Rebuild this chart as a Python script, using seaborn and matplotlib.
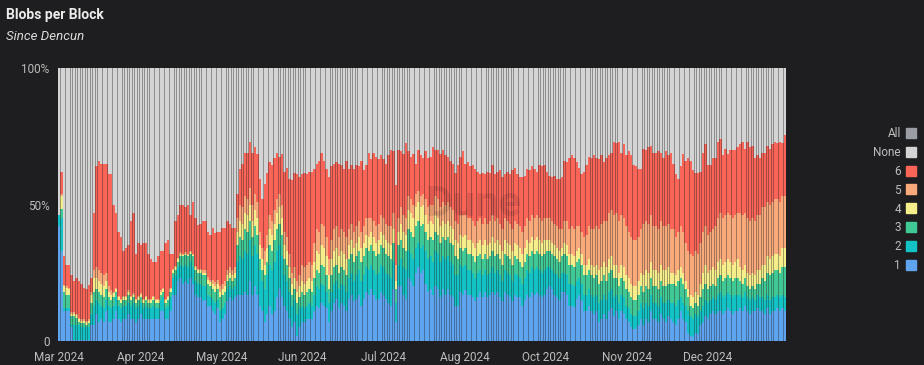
"""Blobs per Block since Dencun: daily share of blocks by blob count (stacked to 100%)."""

import matplotlib

matplotlib.use("Agg")
import matplotlib.pyplot as plt
import numpy as np
import pandas as pd
import seaborn as sns
from matplotlib.lines import Line2D

# cumulative % of blocks carrying 1..k blobs, one value per day from 13 Mar 2024
cum_1 = [
    42, 33, 11, 11, 11, 5, 0.5, 0.5, 0.5, 0.5,
    0.5, 0.5, 0.5, 6, 6, 10, 7, 8, 7, 11,
    7, 7, 8, 11, 8, 7, 8, 8, 10, 8,
    8, 7, 8, 10, 8, 8, 8, 8, 8, 8,
    8, 11, 11, 8, 8, 11, 17, 17, 22, 23,
    21, 22, 21, 23, 21, 17, 16, 16, 14.5, 15,
    13, 13, 11, 10, 12, 7, 8, 10, 14.5, 16,
    15, 16, 17, 17, 17, 18, 17, 22, 17, 20,
    17, 13, 11, 7, 10, 13, 10, 11, 16, 19,
    16, 13, 11, 8, 5, 7, 2, 5,
    7, 7, 8, 8, 8, 11, 13, 12, 14, 13,
    12, 7, 11, 14, 15.5, 12, 14, 13, 11,
    15.5, 17, 14.5, 15.5, 17, 13, 15.5, 18, 17,
    19, 17, 15, 15.5, 18, 17, 15.5, 14, 13,
    19, 7, 20, 20, 17, 15.5, 23, 22, 20, 25, 27, 25, 26,
    21, 18, 19, 17, 20, 19, 16, 19, 17, 19,
    17, 16, 13, 13, 18, 17, 18.5, 17, 17,
    16, 14.5, 16, 18, 16, 18, 16, 17, 18,
    17, 18, 16, 14.5, 18, 17, 16, 14.5, 17,
    16, 16, 13, 15, 17, 16, 18, 17, 18, 17, 16, 17, 19,
    20, 19, 17, 16, 15, 18, 18, 17, 13, 13,
    12.5, 15.5, 17, 15, 11, 11, 13, 11, 10,
    11, 7, 8, 10, 8, 11, 12, 9,
    11, 8, 11, 10, 8, 7, 5, 4.5, 4.5,
    6, 8, 6, 8, 7, 11, 8, 8, 7,
    10, 8, 7, 9, 8,
    7, 6, 8, 11, 8, 7, 3, 2, 1.5, 3,
    2.5, 6, 7, 9, 8, 10, 11, 10, 11,
    11, 10, 11, 12, 11, 10, 11, 11,
    12, 11, 13, 11, 10, 11, 11, 12, 11,
    11, 10, 12, 10, 11, 11, 12, 11, 12, 11,
]
cum_2 = [
    46, 45, 12, 12, 12, 6, 6, 6, 6, 5,
    5, 5, 5, 10, 13, 15, 14, 13, 12, 15,
    13, 12, 13, 16, 13, 12, 13, 13, 14, 13,
    14, 12, 13, 14, 12, 13, 12, 12, 13, 12,
    12, 15, 16, 12, 13, 16, 23, 24, 27, 28,
    27, 28, 27, 29, 27, 22, 21, 21, 20, 20,
    17, 16, 15, 14, 15, 11, 12, 14, 19, 20,
    19, 20, 29, 31, 30, 33, 32, 37, 31, 35,
    32, 26, 22, 19, 24, 28, 26, 29, 33, 35,
    31, 24, 22, 18, 13, 15, 10, 12,
    13, 12, 13, 14, 13, 17, 20, 19, 21, 20,
    18, 14, 18, 21, 22, 19, 21, 20, 18,
    23, 25, 22, 24, 26, 22, 24, 27, 26,
    28, 26, 24, 25, 28, 27, 25, 24, 23,
    29, 14, 28, 30, 27, 26, 33, 32, 30, 34, 36, 34, 35,
    33, 30, 31, 29, 33, 32, 29, 31, 30, 31,
    29, 28, 24, 24, 28, 27, 28, 26, 26,
    25, 23, 25, 26, 24, 26, 24, 25, 27,
    25, 26, 24, 22, 26, 25, 24, 22, 25,
    24, 23, 21, 23, 26, 25, 27, 26, 27, 26, 25, 26, 27,
    27, 26, 25, 24, 23, 25, 25, 24, 21, 21,
    20, 22, 23, 21, 17, 17, 19, 17, 16,
    17, 14, 15, 17, 15, 18, 19, 16,
    17, 14, 17, 16, 13, 12, 10, 9, 9,
    11, 14, 12, 14, 13, 17, 14, 14, 13,
    16, 14, 14, 15, 14,
    14, 13, 15, 16, 14, 13, 11, 9, 8, 10,
    9, 11, 13, 15, 14, 15, 16, 15, 17,
    18, 16, 17, 18, 17, 16, 17, 17,
    17, 16, 18, 16, 15, 16, 15, 17, 16,
    16, 15, 17, 15, 16, 16, 17, 16, 17, 16,
]
cum_3 = [
    46, 48.5, 18, 17, 17, 9, 9, 8.5, 7, 6.5,
    6.5, 6, 6.5, 14, 18, 19, 18, 17, 16, 19,
    16, 15, 16, 18, 15, 14, 15, 15, 17, 15,
    16, 14, 15, 16, 14, 15, 14, 14, 15, 14,
    14, 17, 18, 14, 15, 18, 25, 26, 29, 31,
    31, 31.5, 31, 32, 31, 26, 25, 25, 24, 24,
    21, 20, 19, 18, 19, 16, 17, 18, 22, 23,
    22, 23, 35, 38, 37, 41, 40, 44, 38, 42,
    39, 30, 26, 24, 29, 35, 33, 37, 41, 43,
    39, 30, 28, 23, 17, 19, 14, 16,
    18, 17, 18, 19, 18, 23, 26, 25, 28, 27,
    24, 19, 24, 27, 28, 25, 27, 26, 24,
    30, 32, 29, 31, 33, 29, 31, 34, 33,
    35, 33, 31, 32, 35, 34, 32, 31, 30,
    36, 19, 35, 37, 34, 33, 41, 40, 38, 42, 44, 42, 43,
    40, 37, 38, 37, 40, 39, 36, 38, 37, 38,
    36, 35, 31, 30, 34, 33, 34, 32, 32,
    31, 29, 31, 32, 30, 32, 30, 31, 33,
    31, 32, 30, 28, 32, 31, 30, 28, 31,
    30, 29, 27, 29, 32, 31, 33, 32, 33, 32, 31, 32, 33,
    33, 32, 31, 30, 29, 31, 32, 31, 28, 28,
    27, 29, 30, 28, 24, 24, 26, 24, 23,
    24, 21, 22, 24, 22, 25, 26, 23,
    23, 20, 23, 22, 19, 18, 16, 15, 15,
    17, 20, 18, 20, 19, 23, 20, 20, 19,
    22, 20, 20, 21, 21,
    21, 20, 22, 23, 21, 19, 16, 13, 12, 14,
    13, 16, 19, 21, 19, 20, 21, 20, 23,
    24, 22, 23, 24, 23, 22, 23, 23,
    22, 21, 23, 20, 19, 20, 19, 21, 21,
    23, 22, 25, 24, 25, 26, 26, 25, 27, 27,
]
cum_4 = [
    46, 53, 20, 19.5, 19, 10, 10, 9.5, 8, 7.5,
    7.5, 7, 7.5, 17, 23, 23, 22, 21, 20, 22,
    18, 17, 17.5, 19, 16, 15, 16, 16, 18, 16,
    17, 15, 16, 17, 15, 16, 15, 15, 16, 15,
    15, 18, 19, 15, 16, 19, 26, 27, 30, 32,
    31.5, 32, 31.5, 32.5, 31.5, 27, 26, 26, 25, 25,
    22.5, 21.5, 21, 20, 21, 18, 19, 20, 24, 25,
    24, 25, 40, 44, 43, 47, 46, 50, 44, 48,
    45, 35, 30, 28, 34, 41, 39, 43, 47, 49,
    45, 35, 33, 27, 21, 23, 18, 20,
    22, 21, 22, 23, 22, 29, 33, 32, 35, 34,
    31, 24, 30, 33, 34, 31, 33, 32, 30,
    35, 37, 34, 36, 38, 34, 36, 39, 38,
    40, 38, 36, 37, 40, 39, 37, 36, 35,
    41, 22, 40, 43, 40, 39, 48, 47, 45, 49, 51, 49, 50,
    46, 43, 44, 43, 46, 45, 42, 44, 43, 44,
    42, 41, 37, 36, 39, 38, 39, 37, 37,
    36, 34, 36, 37, 35, 37, 35, 36, 38,
    36, 37, 35, 33, 37, 36, 35, 33, 36,
    35, 34, 32, 34, 37, 36, 38, 37, 38, 37, 36, 37, 37,
    37, 36, 35, 34, 33, 34, 36, 35, 32, 32,
    31, 33, 34, 32, 28, 28, 30, 28, 27,
    28, 26, 27, 29, 27, 30, 31, 28,
    28, 25, 28, 27, 24, 23, 21, 20, 20,
    22, 25, 24, 26, 25, 29, 26, 26, 25,
    28, 26, 26, 27, 25,
    25, 24, 26, 27, 25, 22, 19, 17, 16, 18,
    17, 21, 25, 28, 25, 26, 27, 26, 29,
    30, 28, 29, 30, 29, 28, 29, 30,
    27, 26, 28, 25, 24, 25, 24, 26, 26,
    28, 28, 31, 30, 31, 32, 32, 31, 34, 34,
]
cum_5 = [
    46, 54, 20.5, 20, 19.5, 10.5, 10.5, 10, 8.5, 8,
    8, 7.5, 8, 18, 26, 27, 26, 25, 24, 25,
    20, 18.5, 18, 19.5, 16.5, 15.5, 16.5, 16.5, 18.5, 16.5,
    17.5, 15.5, 16.5, 17.5, 15.5, 16.5, 15.5, 15.5, 16.5, 15.5,
    15.5, 18.5, 19.5, 15.5, 16.5, 19.5, 26.5, 27.5, 30.5, 32.5,
    32, 32.5, 32, 33, 32, 27.5, 26.5, 26.5, 26, 26,
    23.5, 22.5, 22.5, 21.5, 22.5, 20, 21, 22, 26, 27,
    26, 27, 45, 50, 49, 53, 52, 56, 50, 54,
    51, 40, 34, 33, 39, 46, 44, 48, 52, 54,
    50, 40, 38, 32, 25, 27, 22, 24,
    28, 27, 28, 29, 28, 36, 41, 40, 43, 42,
    38, 30, 37, 41, 42, 38, 41, 40, 38,
    41, 43, 40, 42, 44, 40, 42, 45, 45,
    45, 44, 42, 43, 46, 45, 43, 42, 42,
    47, 28, 45, 49, 46, 45, 53, 52, 50, 54, 55, 53, 54,
    52, 49, 50, 50, 53, 52, 49, 51, 50, 51,
    49, 48, 44, 43, 46, 46, 46, 45, 45,
    44, 42, 44, 45, 43, 45, 43, 44, 46,
    44, 45, 43, 41, 45, 44, 43, 41, 44,
    43, 42, 40, 42, 45, 44, 46, 45, 46, 45, 44, 45, 45,
    45, 44, 43, 42, 41, 41, 44, 44, 41, 42,
    41, 42, 42, 40, 38, 39, 42, 41, 41,
    42, 41, 43, 44, 44, 47, 48, 46,
    47, 44, 46, 45, 42, 40, 38, 37, 37,
    38, 41, 43, 44, 43, 46, 42, 42, 41,
    44, 42, 42, 43, 41,
    41, 38, 40, 42, 40, 36, 33, 32, 31, 33,
    32, 36, 40, 42, 39, 40, 41, 42, 45,
    47, 45, 46, 47, 46, 45, 46, 47,
    47, 46, 47, 45, 44, 45, 44, 46, 46,
    49, 49, 51, 50, 51, 52, 52, 51, 53, 53,
]
cum_6 = [
    46, 62, 31, 28, 28, 24, 22, 23, 22, 21,
    19.5, 19, 20.5, 23, 47, 64, 66, 65, 65, 65,
    61, 61, 50, 47, 40, 38, 33, 34, 35, 44,
    47, 32, 36, 35, 36, 36, 32, 30, 29, 29,
    31, 33, 33, 36, 37, 32, 32, 44, 46, 50,
    50, 49, 50, 46, 51, 45, 42.5, 43, 44, 44,
    40, 39, 41.5, 39.5, 40, 40, 41.5, 41.5, 44, 43,
    41.5, 41.5, 54, 63, 65, 69, 69, 73, 69, 71,
    68.5, 59.5, 52, 57.5, 61.5, 65.5, 64.5, 67, 69, 67.5,
    68.5, 62, 63.5, 59.5, 59, 61.5, 61, 60,
    61, 61.5, 61, 62, 62, 63, 65, 66, 69, 66,
    63, 60, 64, 65, 65.5, 65, 64.5, 63, 66,
    63, 64.5, 63, 64.5, 64, 66, 62.5, 64.5, 69,
    66.5, 69, 67.5, 66.5, 68, 66.5, 65, 68, 70,
    69.5, 57, 70, 69.5, 68.5, 72.5, 69.5, 67.5, 68.5, 65, 70, 68, 67,
    69.5, 67, 67.5, 71, 70, 70, 68.5, 70, 68, 67.5,
    66, 65, 61.5, 64.5, 67.5, 69.5, 65, 65.5, 64,
    64.5, 63, 62, 61, 61.5, 61, 62, 61.5, 64.5,
    61, 62, 62.5, 60, 61, 62, 61, 62.5, 63.5,
    61, 60, 60, 60.5, 63, 62.5, 64, 63, 62, 64.5, 64, 64.5, 62,
    60.5, 60, 60.5, 59.5, 59.5, 60, 66, 65.5, 67, 68,
    67, 65.5, 63.5, 61, 62, 64.5, 67.5, 67, 68,
    67, 66.5, 68, 65.5, 67, 68, 69, 73,
    72.5, 73, 69, 72, 68, 69.5, 68, 64.5, 64,
    63, 63, 70.5, 70, 71, 71.5, 69, 69, 69.5,
    69, 67, 69.5, 68, 69,
    65, 61, 59.5, 64, 68.5, 66, 67, 66, 62.5, 61.5,
    61.5, 62, 69, 72, 64.5, 64.5, 67, 67, 73,
    74, 68, 70.5, 68.5, 70, 70, 70, 71,
    72, 73, 70.5, 73, 71, 71.5, 67, 68, 67,
    69, 69, 71.5, 70.5, 72, 73, 72.5, 73, 72.5, 75.5,
]

month_labels = ["Mar 2024", "Apr 2024", "May 2024", "Jun 2024", "Jul 2024",
                "Aug 2024", "Oct 2024", "Nov 2024", "Dec 2024"]
legend_labels = ["All", "None", "6", "5", "4", "3", "2", "1"]
stack_order = ["None", "6", "5", "4", "3", "2", "1"]  # first level ends up on top
palette = {
    "All": "#9a9ea4",
    "None": "#d4d4d4",
    "6": "#fb6558",
    "5": "#f9aa7b",
    "4": "#f6ee8a",
    "3": "#41c995",
    "2": "#12c2c4",
    "1": "#5ea4ee",
}

BG = "#1e1e20"
TXT = "#bdbdbd"
TICK_STEP = 32.75  # spacing of the month labels, in days

# cumulative levels -> per-category shares
levels = np.maximum.accumulate(
    np.array([cum_1, cum_2, cum_3, cum_4, cum_5, cum_6], dtype=float), axis=0)
shares = np.diff(levels, axis=0, prepend=0)
n_days = levels.shape[1]
days = np.arange(n_days)

frames = [pd.DataFrame({"day": days, "blobs": str(k + 1), "share": shares[k]})
          for k in range(6)]
frames.append(pd.DataFrame({"day": days, "blobs": "None", "share": 100 - levels[-1]}))
df = pd.concat(frames, ignore_index=True)

sns.set_theme(style="dark", rc={
    "figure.facecolor": BG,
    "axes.facecolor": BG,
    "savefig.facecolor": BG,
})
plt.rcParams["font.family"] = ["Roboto", "DejaVu Sans"]

fig = plt.figure(figsize=(9.24, 3.65), dpi=100)
ax = fig.add_axes([58 / 924, 1 - 341 / 365, 728 / 924, 273 / 365])

# full-width dimmed layer gives the darker seams between the daily bars
common = dict(data=df, x="day", weights="share", hue="blobs",
              hue_order=stack_order, multiple="stack", discrete=True,
              palette=palette, linewidth=0, legend=False, ax=ax)
sns.histplot(shrink=1, alpha=0.62, **common)
sns.histplot(shrink=0.68, alpha=1, **common)

ax.set_xlim(-0.5, n_days - 0.5)
ax.set_ylim(0, 100)
ax.set_yticks([0, 50, 100], ["0", "50%", "100%"])
ax.set_xticks(np.arange(len(month_labels)) * TICK_STEP, month_labels)
ax.tick_params(axis="both", colors=TXT, labelsize=8.5, length=0)
ax.tick_params(axis="y", pad=6)
ax.tick_params(axis="x", pad=7)
ax.set_xlabel("")
ax.set_ylabel("")
ax.grid(False)
for s in ax.spines.values():
    s.set_visible(False)

ax.text(0.57, 0.5, "Dune", transform=ax.transAxes, fontsize=30,
        fontweight="bold", color="#000000", alpha=0.1, ha="center", va="center")

fig.text(6 / 924, 1 - 15 / 365, "Blobs per Block", color="#ececec",
         fontsize=10, fontweight="bold", va="center", ha="left")
fig.text(6 / 924, 1 - 36 / 365, "Since Dencun", color="#dcdcdc",
         fontsize=9.5, fontstyle="italic", va="center", ha="left")

handles = [Line2D([], [], marker="s", linestyle="none", markersize=7,
                  markerfacecolor=palette[k], markeredgecolor=palette[k])
           for k in legend_labels]
fig.legend(handles, legend_labels, loc="upper right",
           bbox_to_anchor=(921 / 924, 1 - 121 / 365), markerfirst=False,
           frameon=False, labelcolor=TXT, fontsize=8.5, handlelength=0.7,
           handletextpad=0.5, labelspacing=0.5, borderpad=0)

fig.savefig("out.png", dpi=100, facecolor=BG)
